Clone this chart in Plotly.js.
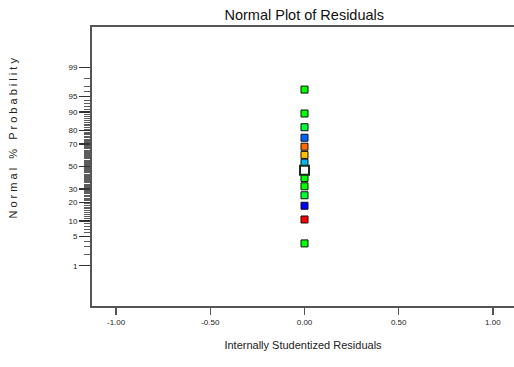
<!DOCTYPE html>
<html>
<head>
<meta charset="utf-8">
<script src="https://cdn.plot.ly/plotly-3.0.1.min.js"></script>
<style>
  html, body { margin: 0; padding: 0; background: #fff; }
  #chart { width: 514px; height: 367px; }
</style>
</head>
<body>
<div id="chart"></div>
<script>
// Internally studentized residuals of each run
const residuals = [0, 0, 0, 0, 0, 0, 0, 0, 0, 0, 0, 0, 0, 0];
// Normal % probability of each run (ordered)
const probabilities = [3.57, 10.71, 17.86, 25.0, 32.14, 39.29, 46.43, 53.57, 60.71, 67.86, 75.0, 82.14, 89.29, 96.43];
// Point colours by run
const pointColors = ['#00ff00', '#ff0000', '#0000ff', '#00ff33', '#00ff00', '#00ff00', '#ffffff',
                     '#00b8f0', '#ffc000', '#ff6a00', '#0064ff', '#00ff33', '#00ff00', '#00ff00'];
// Highlighted run (drawn larger with a heavy outline)
const highlightIndex = 6;

// Probability axis labels
const majorPercents = [1, 5, 10, 20, 30, 50, 70, 80, 90, 95, 99];
const xTickVals = [-1, -0.5, 0, 0.5, 1];
const xTickText = ['-1.00', '-0.50', '0.00', '0.50', '1.00'];

// Inverse standard normal CDF (Acklam's rational approximation)
function normInv(p) {
  const a = [-3.969683028665376e+01, 2.209460984245205e+02, -2.759285104469687e+02,
             1.383577518672690e+02, -3.066479806614716e+01, 2.506628277459239e+00];
  const b = [-5.447609879822406e+01, 1.615858368580409e+02, -1.556989798598866e+02,
             6.680131188771972e+01, -1.328068155288572e+01];
  const c = [-7.784894002430293e-03, -3.223964580411365e-01, -2.400758277161838e+00,
             -2.549671010243282e+00, 4.374664141464968e+00, 2.938163982698783e+00];
  const d = [7.784695709041462e-03, 3.224671290700398e-01, 2.445134137142996e+00,
             3.754408661907416e+00];
  const pl = 0.02425, ph = 1 - pl;
  let q, r;
  if (p < pl) {
    q = Math.sqrt(-2 * Math.log(p));
    return (((((c[0]*q + c[1])*q + c[2])*q + c[3])*q + c[4])*q + c[5]) /
           ((((d[0]*q + d[1])*q + d[2])*q + d[3])*q + 1);
  }
  if (p <= ph) {
    q = p - 0.5; r = q * q;
    return (((((a[0]*r + a[1])*r + a[2])*r + a[3])*r + a[4])*r + a[5]) * q /
           (((((b[0]*r + b[1])*r + b[2])*r + b[3])*r + b[4])*r + 1);
  }
  q = Math.sqrt(-2 * Math.log(1 - p));
  return -(((((c[0]*q + c[1])*q + c[2])*q + c[3])*q + c[4])*q + c[5]) /
          ((((d[0]*q + d[1])*q + d[2])*q + d[3])*q + 1);
}
const z = pct => normInv(pct / 100);

const minorPercents = [];
for (let k = 1; k <= 99; k++) if (!majorPercents.includes(k)) minorPercents.push(k);

const normalIdx = probabilities.map((_, i) => i).filter(i => i !== highlightIndex);

const traces = [
  {
    type: 'scatter', mode: 'markers',
    x: normalIdx.map(i => residuals[i]),
    y: normalIdx.map(i => z(probabilities[i])),
    marker: {
      symbol: 'square', size: 7,
      color: normalIdx.map(i => pointColors[i]),
      line: { color: '#111', width: 1 }
    },
    hoverinfo: 'skip'
  },
  {
    type: 'scatter', mode: 'markers',
    x: [residuals[highlightIndex]],
    y: [z(probabilities[highlightIndex])],
    marker: {
      symbol: 'square', size: 9,
      color: pointColors[highlightIndex],
      line: { color: '#1a2a1a', width: 2 }
    },
    hoverinfo: 'skip'
  }
];

const axisColor = '#555';
const font = 'Liberation Sans, Arial, sans-serif';

const layout = {
  width: 514, height: 367,
  margin: { l: 92, r: 0, t: 27, b: 61 },
  paper_bgcolor: '#fff', plot_bgcolor: '#fff',
  showlegend: false,
  font: { family: font, color: '#222', size: 8 },
  title: {
    text: 'Normal Plot of Residuals',
    font: { family: font, size: 14.5, color: '#111' },
    x: 0.503, xref: 'paper', xanchor: 'center',
    y: 0.96, yref: 'container', yanchor: 'middle'
  },
  xaxis: {
    range: [-1.128, 1.112],
    tickmode: 'array', tickvals: xTickVals, ticktext: xTickText,
    ticks: 'outside', ticklen: 7, tickwidth: 1.5, tickcolor: axisColor,
    showline: true, linecolor: axisColor, linewidth: 2, mirror: true,
    showgrid: false, zeroline: false,
    tickfont: { family: font, size: 8, color: '#222' },
    title: {
      text: 'Internally Studentized Residuals',
      font: { family: font, size: 11, color: '#222' },
      standoff: 16
    }
  },
  yaxis: {
    range: [-3.27, 3.27],
    tickmode: 'array',
    tickvals: majorPercents.map(z),
    ticktext: majorPercents.map(String),
    ticks: 'outside', ticklen: 11, tickwidth: 1.5, tickcolor: '#333',
    minor: {
      tickmode: 'array', tickvals: minorPercents.map(z),
      ticks: 'outside', ticklen: 6, tickwidth: 0.8, tickcolor: '#333', showgrid: false
    },
    showline: true, linecolor: axisColor, linewidth: 2,
    showgrid: false, zeroline: false,
    tickfont: { family: font, size: 8, color: '#222' }
  },
  annotations: [{
    text: 'N o r m a l &nbsp; % &nbsp; P r o b a b i l i t y',
    xref: 'paper', yref: 'paper',
    x: -79 / 422, y: 0.6,
    xanchor: 'center', yanchor: 'middle',
    textangle: -90, showarrow: false,
    font: { family: font, size: 11, color: '#222' }
  }]
};

Plotly.newPlot('chart', traces, layout, { staticPlot: true, displayModeBar: false });
</script>
</body>
</html>
